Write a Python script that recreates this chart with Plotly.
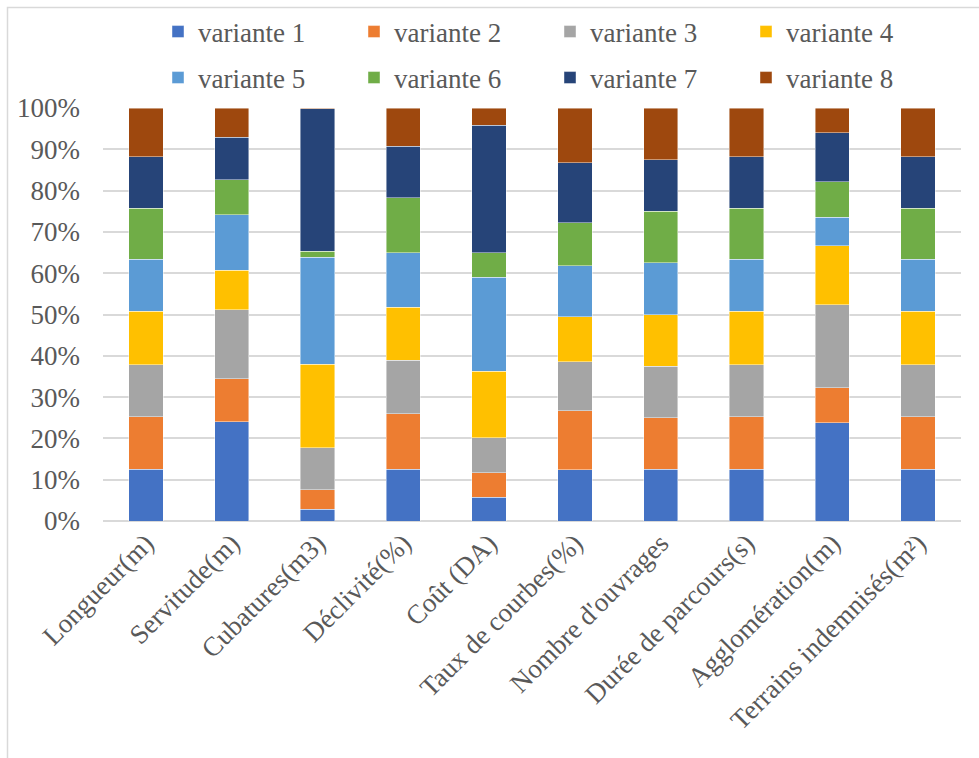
import plotly.graph_objects as go

# Criteria (x axis categories)
categories = [
    "Longueur(m)", "Servitude(m)", "Cubatures(m3)", "Déclivité(%)", "Coût (DA)",
    "Taux de courbes(%)", "Nombre d'ouvrages", "Durée de parcours(s)",
    "Agglomération(m)", "Terrains indemnisés(m²)",
]

# Share of each variant per criterion (%)
variante_1 = [12.5, 24.0, 2.9, 12.5, 5.8, 12.4, 12.5, 12.5, 23.8, 12.5]
variante_2 = [12.7, 10.4, 4.7, 13.5, 5.9, 14.3, 12.5, 12.7, 8.5, 12.7]
variante_3 = [12.6, 16.8, 10.1, 12.9, 8.4, 11.9, 12.5, 12.6, 20.1, 12.6]
variante_4 = [13.0, 9.5, 20.3, 12.9, 16.2, 10.9, 12.5, 13.0, 14.2, 13.0]
variante_5 = [12.6, 13.4, 25.9, 13.2, 22.7, 12.3, 12.5, 12.6, 6.9, 12.6]
variante_6 = [12.3, 8.5, 1.4, 13.3, 5.9, 10.4, 12.5, 12.3, 8.6, 12.3]
variante_7 = [12.5, 10.3, 34.5, 12.4, 30.9, 14.5, 12.5, 12.5, 11.9, 12.5]
variante_8 = [11.8, 7.1, 0.2, 9.3, 4.2, 13.3, 12.5, 11.8, 6.0, 11.8]

series_names = ["variante 1", "variante 2", "variante 3", "variante 4",
                "variante 5", "variante 6", "variante 7", "variante 8"]
series_values = [variante_1, variante_2, variante_3, variante_4,
                 variante_5, variante_6, variante_7, variante_8]
y_ticks = [0, 10, 20, 30, 40, 50, 60, 70, 80, 90, 100]

colors = ["#4472C4", "#ED7D31", "#A5A5A5", "#FFC000",
          "#5B9BD5", "#70AD47", "#264478", "#9E480E"]

W, H = 979, 758
L, R, T, B = 103, 18, 108, 237
pw, ph = W - L - R, H - T - B

FONT = "Times New Roman, Liberation Serif, serif"
TXT = "#595959"

fig = go.Figure()
for i, (name, vals) in enumerate(zip(series_names, series_values)):
    fig.add_trace(go.Bar(
        x=categories, y=vals, name=name,
        marker=dict(color=colors[i], line=dict(color="rgba(255,255,255,0.55)", width=0.8)),
        legend="legend" if i < 4 else "legend2",
    ))

def px_to_paper_x(px):
    return (px - L) / pw

def px_to_paper_y(py):
    return 1 + (T - py) / ph

legend_common = dict(
    orientation="h", xanchor="left", yanchor="middle",
    xref="container", yref="container",
    font=dict(family=FONT, size=27, color=TXT),
    entrywidth=151, entrywidthmode="pixels",
    bgcolor="rgba(0,0,0,0)", traceorder="normal",
    itemclick=False, itemdoubleclick=False,
)

fig.update_layout(
    width=W, height=H,
    margin=dict(l=L, r=R, t=T, b=B, autoexpand=False),
    paper_bgcolor="white", plot_bgcolor="white",
    barmode="stack", barnorm="percent", bargap=0.6,
    font=dict(family=FONT, size=27, color=TXT),
    legend=dict(x=158 / W, y=1 - 32 / H, **legend_common),
    legend2=dict(x=158 / W, y=1 - 78 / H, **legend_common),
    xaxis=dict(
        tickangle=-45, tickfont=dict(family=FONT, size=27, color=TXT),
        showgrid=False, showline=False, ticks="",
    ),
    yaxis=dict(
        range=[0, 100], tickvals=y_ticks, ticktext=[f"{v}%" for v in y_ticks],
        tickfont=dict(family=FONT, size=27, color=TXT),
        showgrid=True, gridcolor="#D9D9D9", gridwidth=1.5,
        zeroline=True, zerolinecolor="#D9D9D9", zerolinewidth=1.5,
        showline=False, ticks="", ticklabelstandoff=22,
    ),
    shapes=[dict(
        type="rect", xref="paper", yref="paper",
        x0=px_to_paper_x(7.5), x1=px_to_paper_x(990),
        y0=px_to_paper_y(770), y1=px_to_paper_y(7.5),
        line=dict(color="#D9D9D9", width=1.5), fillcolor="rgba(0,0,0,0)",
        layer="below",
    )],
)

fig.write_html("out.html")
